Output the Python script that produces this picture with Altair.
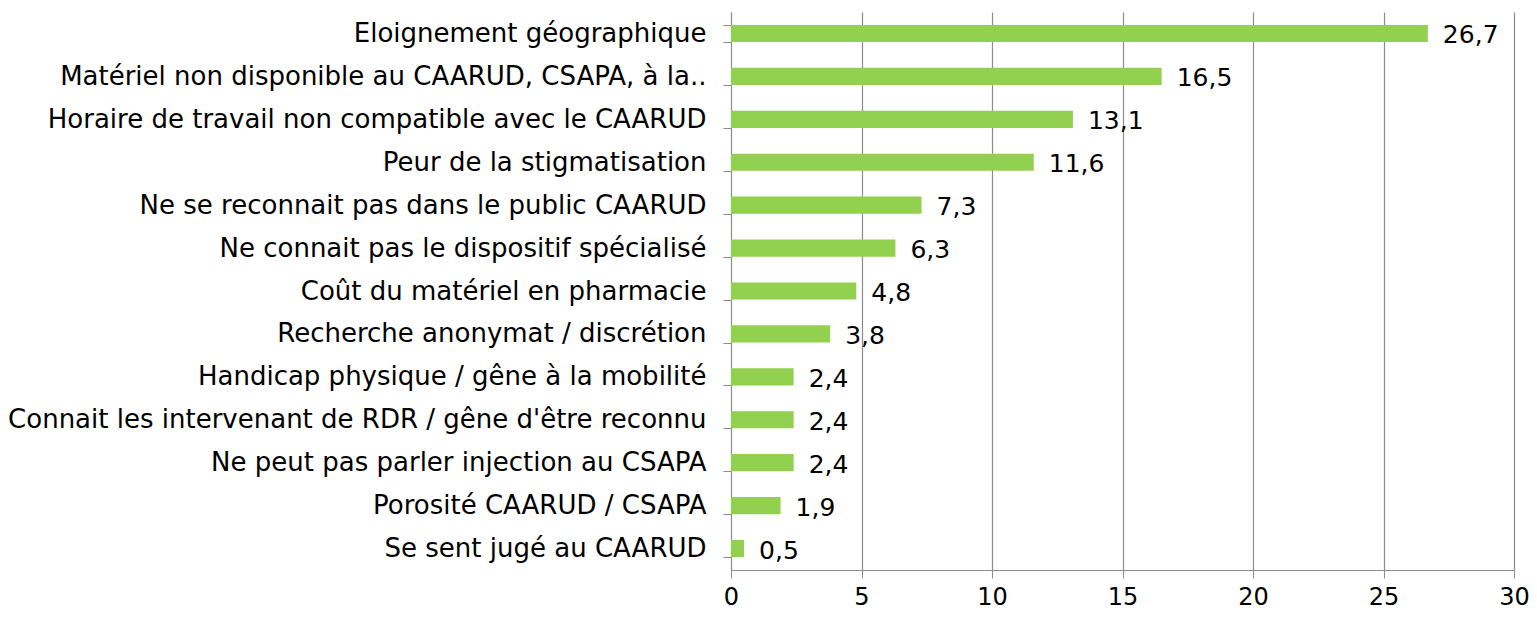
import altair as alt
import pandas as pd

categories = [
    "Eloignement géographique",
    "Matériel non disponible au CAARUD, CSAPA, à la..",
    "Horaire de travail non compatible avec le CAARUD",
    "Peur de la stigmatisation",
    "Ne se reconnait pas dans le public CAARUD",
    "Ne connait pas le dispositif spécialisé",
    "Coût du matériel en pharmacie",
    "Recherche anonymat / discrétion",
    "Handicap physique / gêne à la mobilité",
    "Connait les intervenant de RDR / gêne d'être reconnu",
    "Ne peut pas parler injection au CSAPA",
    "Porosité CAARUD / CSAPA",
    "Se sent jugé au CAARUD",
]
values = [26.7, 16.5, 13.1, 11.6, 7.3, 6.3, 4.8, 3.8, 2.4, 2.4, 2.4, 1.9, 0.5]
x_ticks = [0, 5, 10, 15, 20, 25, 30]

df = pd.DataFrame({
    "cat": categories,
    "val": values,
    "lab": [f"{v:.1f}".replace(".", ",") for v in values],
})

FONT = "DejaVu Sans"
GRAY = "#8c8c8c"

y_enc = alt.Y(
    "cat:N", sort=None, title=None,
    scale=alt.Scale(paddingInner=0.6, paddingOuter=0.3),
    axis=alt.Axis(
        tickBand="extent", ticks=True, tickSize=8, tickColor=GRAY,
        domainColor=GRAY, labelPadding=17, labelLimit=0,
        labelFont=FONT, labelFontSize=26, labelColor="#000000", grid=False,
    ),
)
x_enc = alt.X(
    "val:Q", title=None,
    scale=alt.Scale(domain=[0, 30], nice=False),
    axis=alt.Axis(
        values=x_ticks, tickSize=8, tickColor=GRAY, domainColor=GRAY,
        grid=True, gridColor=GRAY, gridWidth=1.2, labelPadding=7,
        labelFlush=False, labelOverlap=False,
        labelFont=FONT, labelFontSize=24, labelColor="#000000",
    ),
)

bars = alt.Chart(df).mark_bar(color="#92D050").encode(x=x_enc, y=y_enc)
texts = alt.Chart(df).mark_text(
    align="left", baseline="middle", dx=15, dy=2,
    font=FONT, fontSize=25, color="#000000",
).encode(x="val:Q", y=alt.Y("cat:N", sort=None), text="lab:N")

chart = (bars + texts).properties(
    width=783, height=558,
    autosize=alt.AutoSizeParams(type="none"),
    padding={"left": 723, "top": 4, "right": 15, "bottom": 42},
).configure_view(stroke=None)

chart.save("out.html", embed_options={"renderer": "svg", "actions": False})
